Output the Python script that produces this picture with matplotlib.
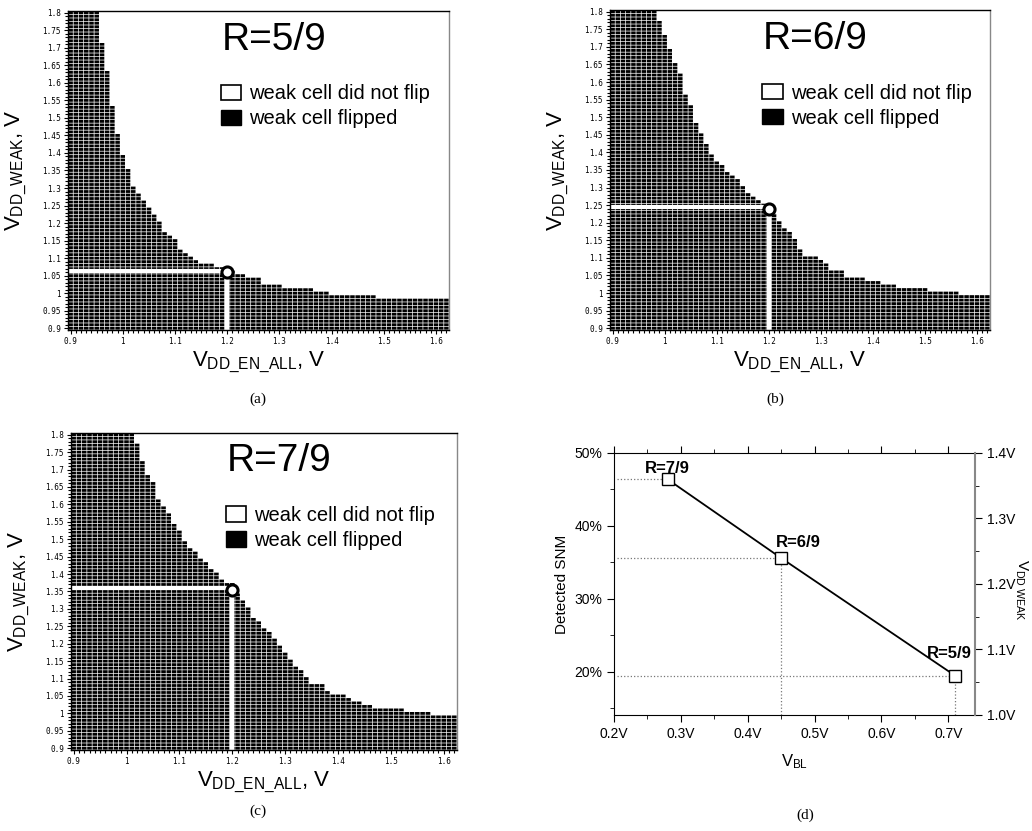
import numpy as np
import matplotlib
matplotlib.use("Agg")
import matplotlib.pyplot as plt
from matplotlib.colors import ListedColormap
from matplotlib.patches import Patch
from matplotlib.ticker import MultipleLocator, FuncFormatter

plt.rcParams['font.family'] = ['Liberation Sans', 'DejaVu Sans']
plt.rcParams['mathtext.fontset'] = 'custom'
plt.rcParams['mathtext.rm'] = 'Liberation Sans'
plt.rcParams['mathtext.it'] = 'Liberation Sans'

# shmoo grid: V_DD_EN_ALL columns and V_DD_WEAK rows (0.01 V steps)
en_all = np.round(np.arange(0.90, 1.625, 0.01), 2)
weak = np.round(np.arange(0.90, 1.805, 0.01), 2)

# top of the "flipped" region, as a step function: from column start on, top value
a_starts = [0.90, 0.96, 0.97, 0.98, 0.99, 1.00, 1.01, 1.02, 1.03, 1.04, 1.05,
            1.06, 1.07, 1.08, 1.09, 1.10, 1.11, 1.12, 1.13, 1.14, 1.15,
            1.18, 1.20, 1.22, 1.24, 1.27, 1.31, 1.37, 1.40, 1.49]
a_tops = [1.80, 1.71, 1.63, 1.53, 1.45, 1.39, 1.35, 1.30, 1.28, 1.26, 1.24,
          1.22, 1.20, 1.17, 1.16, 1.15, 1.12, 1.11, 1.10, 1.09, 1.08,
          1.07, 1.06, 1.05, 1.04, 1.02, 1.01, 1.00, 0.99, 0.98]

b_starts = [0.90, 0.99, 1.00, 1.01, 1.02, 1.03, 1.04, 1.05, 1.06, 1.07, 1.08,
            1.09, 1.10, 1.11, 1.12, 1.13, 1.14, 1.15, 1.16, 1.17, 1.18, 1.19,
            1.21, 1.22, 1.23, 1.24, 1.25, 1.26, 1.27,
            1.30, 1.31, 1.32, 1.35, 1.39, 1.42, 1.45, 1.51, 1.57]
b_tops = [1.80, 1.77, 1.73, 1.69, 1.65, 1.62, 1.56, 1.53, 1.48, 1.45, 1.42,
          1.39, 1.37, 1.36, 1.34, 1.33, 1.32, 1.30, 1.28, 1.27, 1.26, 1.25,
          1.22, 1.20, 1.18, 1.17, 1.15, 1.12, 1.10,
          1.09, 1.08, 1.06, 1.04, 1.03, 1.02, 1.01, 1.00, 0.99]

c_starts = [0.90, 1.02, 1.03, 1.04, 1.05, 1.06, 1.07, 1.08, 1.09, 1.10, 1.11,
            1.12, 1.13, 1.14, 1.15, 1.16, 1.17, 1.18, 1.19,
            1.21, 1.22, 1.23, 1.24, 1.25, 1.26, 1.27, 1.28, 1.29, 1.30, 1.31,
            1.32, 1.33, 1.34, 1.35, 1.38, 1.39, 1.42, 1.43, 1.45, 1.47, 1.53, 1.58]
c_tops = [1.80, 1.77, 1.72, 1.68, 1.66, 1.61, 1.59, 1.57, 1.54, 1.52, 1.49,
          1.47, 1.46, 1.44, 1.43, 1.41, 1.40, 1.38, 1.37,
          1.34, 1.32, 1.30, 1.27, 1.26, 1.24, 1.23, 1.21, 1.19, 1.17, 1.15,
          1.13, 1.12, 1.10, 1.08, 1.06, 1.05, 1.04, 1.03, 1.02, 1.01, 1.00, 0.99]

# operating point (V_DD_EN_ALL = 1.2 V) for each ratio
ratios = ["R=5/9", "R=6/9", "R=7/9"]
op_en_all = [1.2, 1.2, 1.2]
op_weak = [1.06, 1.24, 1.355]

# panel (d)
v_bl = [0.28, 0.45, 0.71]
snm = [46.4, 35.6, 19.5]
d_labels = ["R=7/9", "R=6/9", "R=5/9"]

fig = plt.figure(figsize=(10.32, 8.31), dpi=100)


def shmoo(rect, starts, tops, title, op_x, op_y):
    """
    draw one shmoo plot: black = weak cell flipped
    """
    ax = fig.add_axes(rect)
    idx = np.searchsorted(starts, en_all + 1e-6, side='right') - 1
    top = np.array(tops)[idx]
    flipped = (weak[:, None] <= top[None, :] + 1e-6).astype(int)
    x_edges = np.append(en_all - 0.005, en_all[-1] + 0.005)
    y_edges = np.append(weak - 0.005, weak[-1] + 0.005)
    ax.pcolormesh(x_edges, y_edges, flipped, cmap=ListedColormap(['white', 'black']),
                  vmin=0, vmax=1)
    # white cell borders, as on the tester print
    ax.vlines(x_edges, 0.895, 1.805, color='white', lw=0.5, snap=False)
    ax.hlines(y_edges, 0.895, 1.625, color='white', lw=0.5, snap=False)
    # white cross-hair to the operating point
    ax.plot([0.895, op_x - 0.008], [op_y + 0.004, op_y + 0.004], color='white', lw=3, solid_capstyle='butt')
    ax.plot([op_x, op_x], [0.895, op_y - 0.01], color='white', lw=3, solid_capstyle='butt')
    ax.plot(op_x, op_y, 'o', ms=8, mfc='white', mec='black', mew=2.2)
    ax.set_xlim(0.895, 1.625)
    ax.set_ylim(0.895, 1.805)
    ax.xaxis.set_major_locator(MultipleLocator(0.1))
    ax.xaxis.set_minor_locator(MultipleLocator(0.01))
    ax.yaxis.set_major_locator(MultipleLocator(0.05))
    ax.yaxis.set_minor_locator(MultipleLocator(0.01))
    fmt = FuncFormatter(lambda v, p: ("%.2f" % v).rstrip('0').rstrip('.'))
    ax.xaxis.set_major_formatter(fmt)
    ax.yaxis.set_major_formatter(fmt)
    ax.tick_params(which='both', direction='out', labelsize=5.5, width=0.8, pad=2)
    ax.tick_params(which='major', length=3)
    ax.tick_params(which='minor', length=2)
    for lab in ax.get_xticklabels() + ax.get_yticklabels():
        lab.set_family('DejaVu Sans Mono')
    for s in ax.spines.values():
        s.set_linewidth(1.0)
    ax.spines['right'].set_color('#888888')
    ax.set_xlabel(r'$V_{\mathrm{DD\_EN\_ALL}}$, V', fontsize=16, labelpad=3)
    ax.set_ylabel(r'$V_{\mathrm{DD\_WEAK}}$, V', fontsize=16, labelpad=10)
    ax.text(0.54, 0.91, title, transform=ax.transAxes, fontsize=28,
            ha='center', va='center')
    handles = [Patch(facecolor='white', edgecolor='black', lw=1.2),
               Patch(facecolor='black', edgecolor='black')]
    ax.legend(handles, ["weak cell did not flip", "weak cell flipped"],
              loc='upper left', bbox_to_anchor=(0.38, 0.795), frameon=False,
              fontsize=14.5, handlelength=1.0, handleheight=0.8,
              handletextpad=0.4, labelspacing=0.3, borderaxespad=0)
    return ax


shmoo([0.0659, 0.6029, 0.3692, 0.3839], a_starts, a_tops, ratios[0], op_en_all[0], op_weak[0])
shmoo([0.5911, 0.6029, 0.3682, 0.3851], b_starts, b_tops, ratios[1], op_en_all[1], op_weak[1])
shmoo([0.0688, 0.0975, 0.3740, 0.3815], c_starts, c_tops, ratios[2], op_en_all[2], op_weak[2])

# panel (d): detected SNM vs V_BL
ax = fig.add_axes([0.595, 0.1396, 0.3498, 0.3153])
ax.plot(v_bl, snm, color='black', lw=1.3, marker='s', ms=8, mfc='white',
        mec='black', mew=1.0, zorder=3)
for i in range(len(v_bl)):
    ax.plot([0.205, v_bl[i]], [snm[i], snm[i]], ':', color='#777777', lw=0.9)
    if i > 0:
        ax.plot([v_bl[i], v_bl[i]], [14.1, snm[i]], ':', color='#777777', lw=0.9)
offsets = [(0, 8), (12, 11), (-4, 16)]
for i in range(len(v_bl)):
    ax.annotate(d_labels[i], (v_bl[i], snm[i]), xytext=offsets[i],
                textcoords='offset points', ha='center', va='center',
                fontsize=12, fontweight='bold')
ax.set_xlim(0.2, 0.74)
ax.set_ylim(14.1, 50)
ax.xaxis.set_major_locator(MultipleLocator(0.1))
ax.xaxis.set_minor_locator(MultipleLocator(0.05))
ax.yaxis.set_major_locator(MultipleLocator(10))
ax.yaxis.set_minor_locator(MultipleLocator(5))
ax.xaxis.set_major_formatter(FuncFormatter(lambda v, p: "%.1fV" % v))
ax.yaxis.set_major_formatter(FuncFormatter(lambda v, p: "%d%%" % v))
ax.tick_params(which='both', direction='out', labelsize=10)
ax.tick_params(which='both', axis='x', top=True)
ax.tick_params(which='major', length=5)
ax.tick_params(which='minor', length=3)
ax.set_ylabel("Detected SNM", fontsize=11, labelpad=4)
ax.set_xlabel(r'$V_{\mathrm{BL}}$', fontsize=12, labelpad=8)
ax.spines['right'].set_visible(False)

ax2 = ax.twinx()
ax2.set_ylim(1.0, 1.4)
ax2.yaxis.set_major_locator(MultipleLocator(0.1))
ax2.yaxis.set_minor_locator(MultipleLocator(0.05))
ax2.yaxis.set_major_formatter(FuncFormatter(lambda v, p: "%.1fV" % v))
ax2.tick_params(which='both', direction='out', labelsize=10, colors='black')
ax2.tick_params(which='major', length=5)
ax2.tick_params(which='minor', length=3)
ax2.spines['right'].set_color('#888888')
ax2.spines['right'].set_linewidth(1.5)
ax2.spines['left'].set_visible(False)
ax2.spines['top'].set_visible(False)
ax2.spines['bottom'].set_visible(False)
# right axis label, placed by hand so it clears the tick labels
fig.text(1021 / 1032, 1 - 590 / 831, r'$V_{\mathrm{DD\ WEAK}}$', fontsize=11,
         rotation=-90, ha='center', va='center')

# panel captions
cap = dict(fontsize=11, family='Liberation Serif', ha='center', va='center')
fig.text(258 / 1032, 1 - 399 / 831, "(a)", **cap)
fig.text(775 / 1032, 1 - 399 / 831, "(b)", **cap)
fig.text(258 / 1032, 1 - 811 / 831, "(c)", **cap)
fig.text(805 / 1032, 1 - 815 / 831, "(d)", **cap)

fig.savefig("out.png", dpi=100)
